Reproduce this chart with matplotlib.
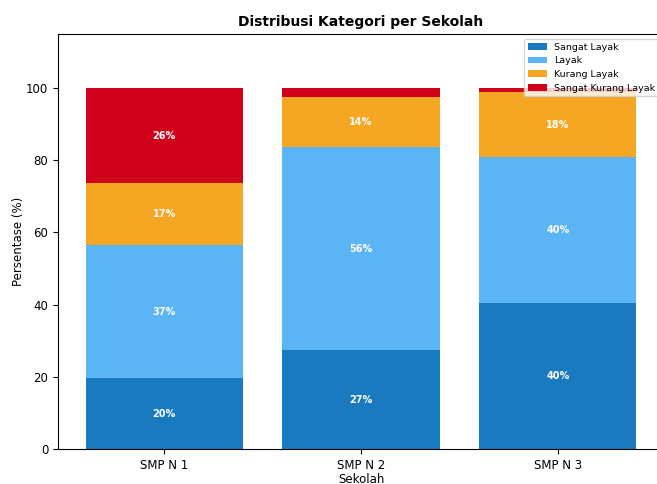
import matplotlib.pyplot as plt
import numpy as np

# data
sekolah = ['SMP N 1', 'SMP N 2', 'SMP N 3']
kategori = ['Sangat Layak', 'Layak', 'Kurang Layak', 'Sangat Kurang Layak']
sangat_layak = [19.6, 27.4, 40.4]
layak = [37.0, 56.2, 40.4]
kurang_layak = [17.1, 13.9, 18.2]
sangat_kurang_layak = [26.3, 2.5, 1.0]
warna = ['#1a7abf', '#5bb4f4', '#f5a623', '#d0021b']

plt.rcParams['font.size'] = 8.5

fig = plt.figure(figsize=(6.57, 4.84), dpi=100)
ax = fig.add_axes([58 / 657, 35 / 484, 606 / 657, 415 / 484])

x = np.arange(len(sekolah))
bottom = np.zeros(len(sekolah))
for nama, nilai, c in zip(kategori, [sangat_layak, layak, kurang_layak, sangat_kurang_layak], warna):
    nilai = np.array(nilai)
    bars = ax.bar(x, nilai, 0.8, bottom=bottom, color=c, label=nama)
    for b, v, btm in zip(bars, nilai, bottom):
        if v > 5:
            ax.text(b.get_x() + b.get_width() / 2, btm + v / 2, f'{v:.0f}%',
                    ha='center', va='center', color='white', fontsize=7, fontweight='bold')
    bottom += nilai

ax.set_xticks(x)
ax.set_xticklabels(sekolah)
ax.set_ylim(0, 115)
ax.set_xlabel('Sekolah', labelpad=1)
ax.set_ylabel('Persentase (%)', labelpad=1)
ax.set_title('Distribusi Kategori per Sekolah', fontsize=10, fontweight='bold')
ax.legend(loc='upper right', fontsize=6.8)

plt.savefig('out.png', dpi=100)
